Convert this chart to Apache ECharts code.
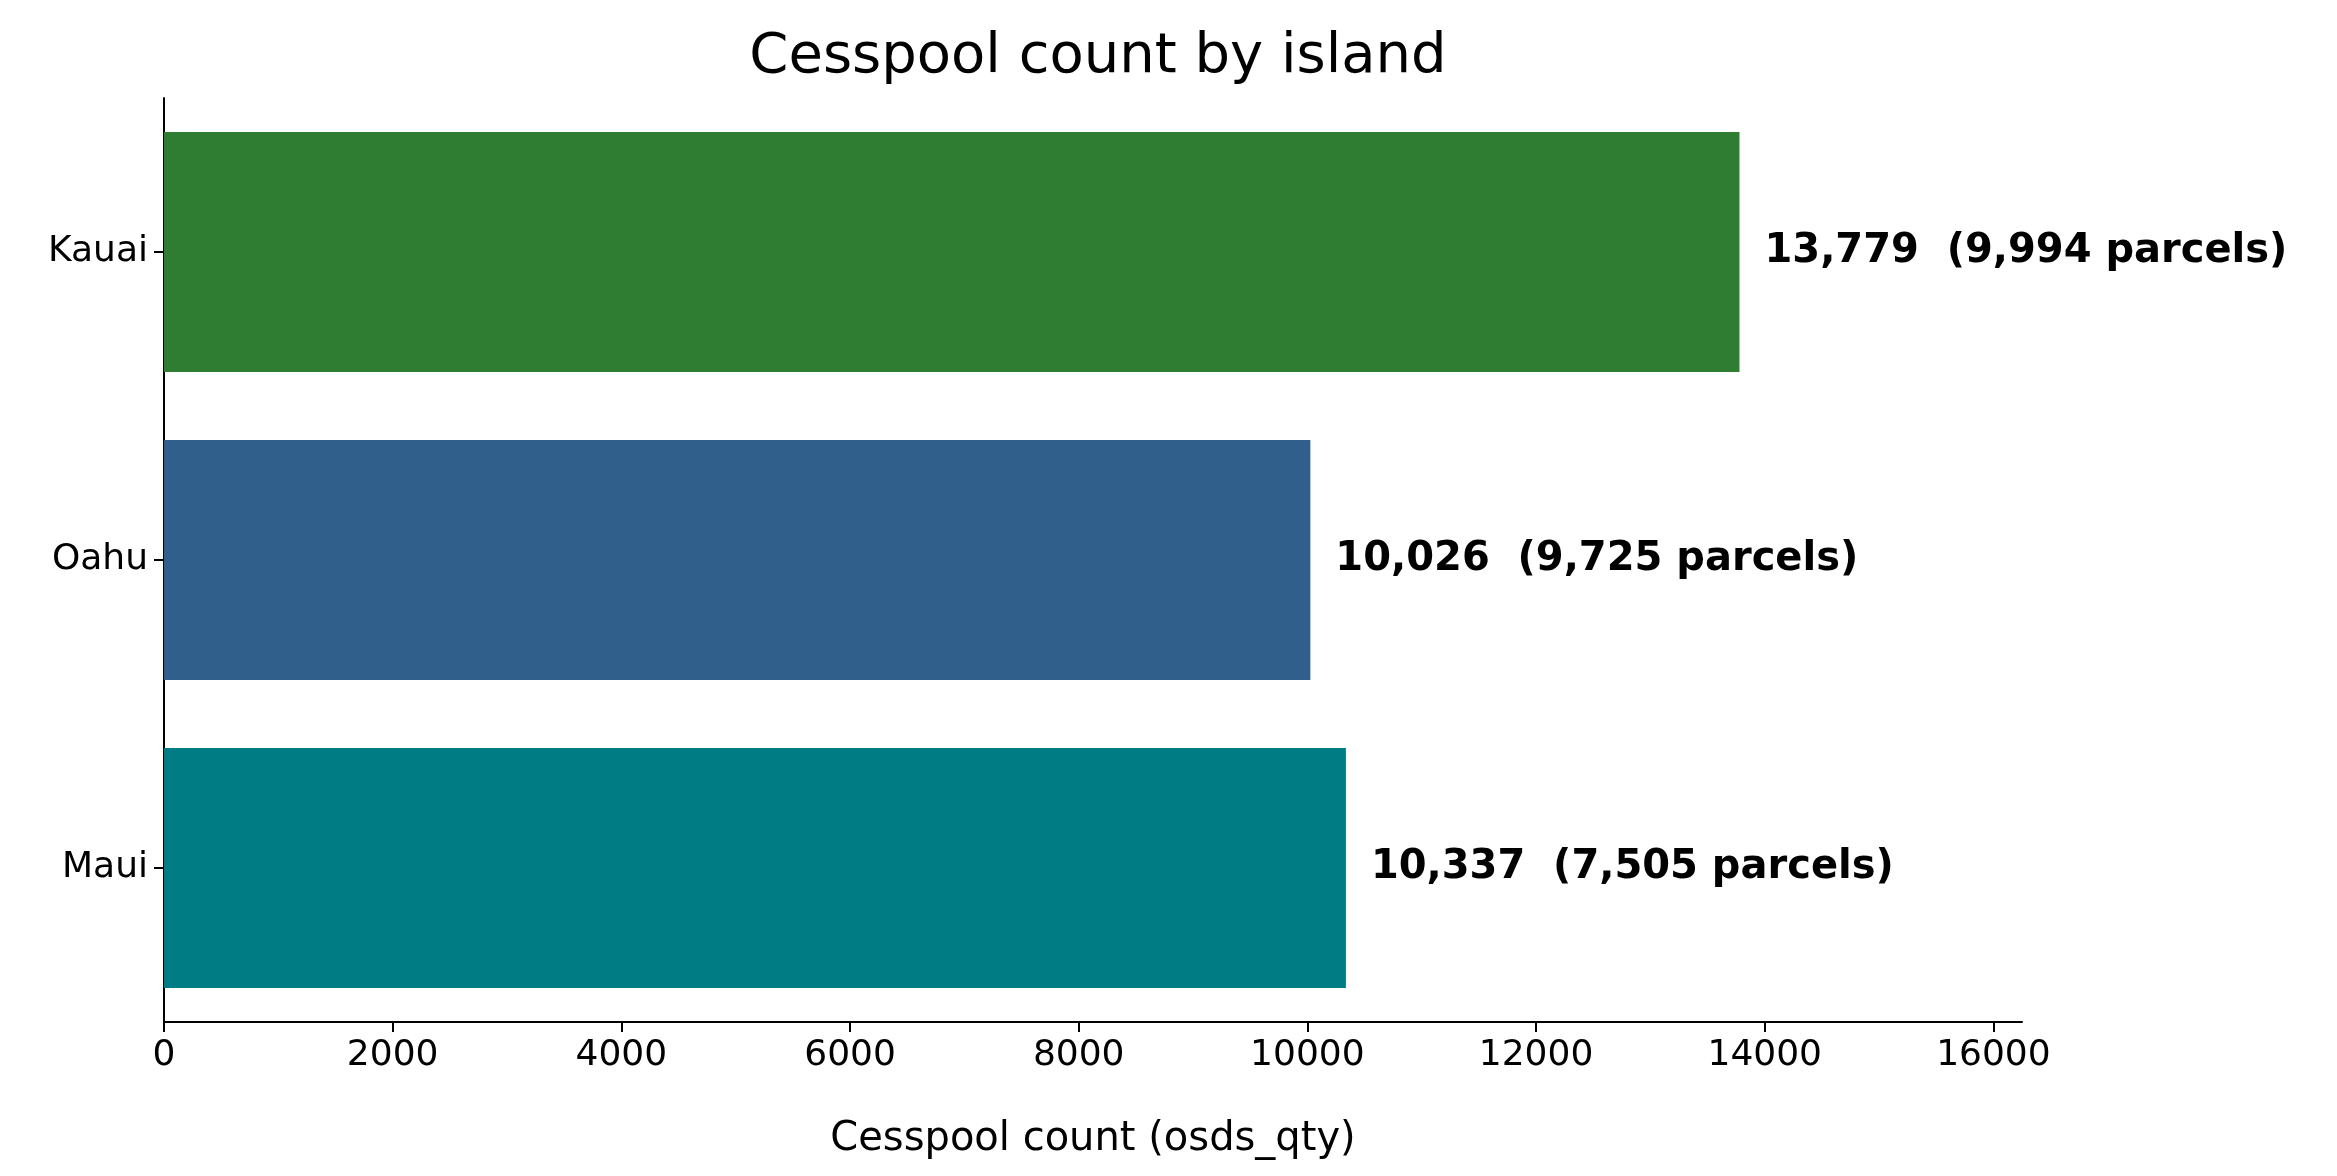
<!DOCTYPE html>
<html><head><meta charset="utf-8">
<script src="https://cdn.jsdelivr.net/npm/echarts@6/dist/echarts.min.js"></script>
<style>html,body{margin:0;padding:0;background:#fff}#c{width:2337px;height:1176px}</style>
</head><body><div id="c"></div>
<script>
const islands = ['Maui', 'Oahu', 'Kauai'];
const counts = [10337, 10026, 13779];
const parcels = [7505, 9725, 9994];
const colors = ['#007c85', '#2f5f8a', '#2e7d32'];
const fmt = n => n.toLocaleString('en-US');
const chart = echarts.init(document.getElementById('c'));
chart.setOption({
  animation: false,
  title: { text: 'Cesspool count by island', left: 1093, top: 24, textAlign: 'center',
    textStyle: { fontFamily: 'DejaVu Sans', fontSize: 56, fontWeight: 'normal', color: '#000' } },
  grid: { left: 164, right: 2337 - 2022, top: 98, bottom: 1176 - 1022, containLabel: false },
  xAxis: { type: 'value', min: 0, max: 16250, interval: 2000,
    name: 'Cesspool count (osds_qty)', nameLocation: 'middle', nameGap: 98,
    nameTextStyle: { fontFamily: 'DejaVu Sans', fontSize: 40, color: '#000' },
    axisLine: { show: true, lineStyle: { color: '#000', width: 2 } },
    axisTick: { show: true, inside: false, length: 10, lineStyle: { color: '#000', width: 2 } },
    axisLabel: { showMaxLabel: false, formatter: v => String(v), fontFamily: 'DejaVu Sans', fontSize: 36, color: '#000', margin: 16 },
    splitLine: { show: false } },
  yAxis: { type: 'category', data: islands,
    axisLine: { show: true, lineStyle: { color: '#000', width: 2 } },
    axisTick: { show: true, inside: false, alignWithLabel: true, length: 10, lineStyle: { color: '#000', width: 2 } },
    axisLabel: { fontFamily: 'DejaVu Sans', fontSize: 36, color: '#000', margin: 16 } },
  series: [{ type: 'bar', barWidth: 240,
    data: counts.map((v, i) => ({ value: v, itemStyle: { color: colors[i] } })),
    label: { show: true, position: 'right', distance: 25,
      formatter: p => fmt(counts[p.dataIndex]) + '  (' + fmt(parcels[p.dataIndex]) + ' parcels)',
      fontFamily: 'DejaVu Sans', fontSize: 40, fontWeight: 'bold', color: '#000' } }]
});
</script></body></html>
